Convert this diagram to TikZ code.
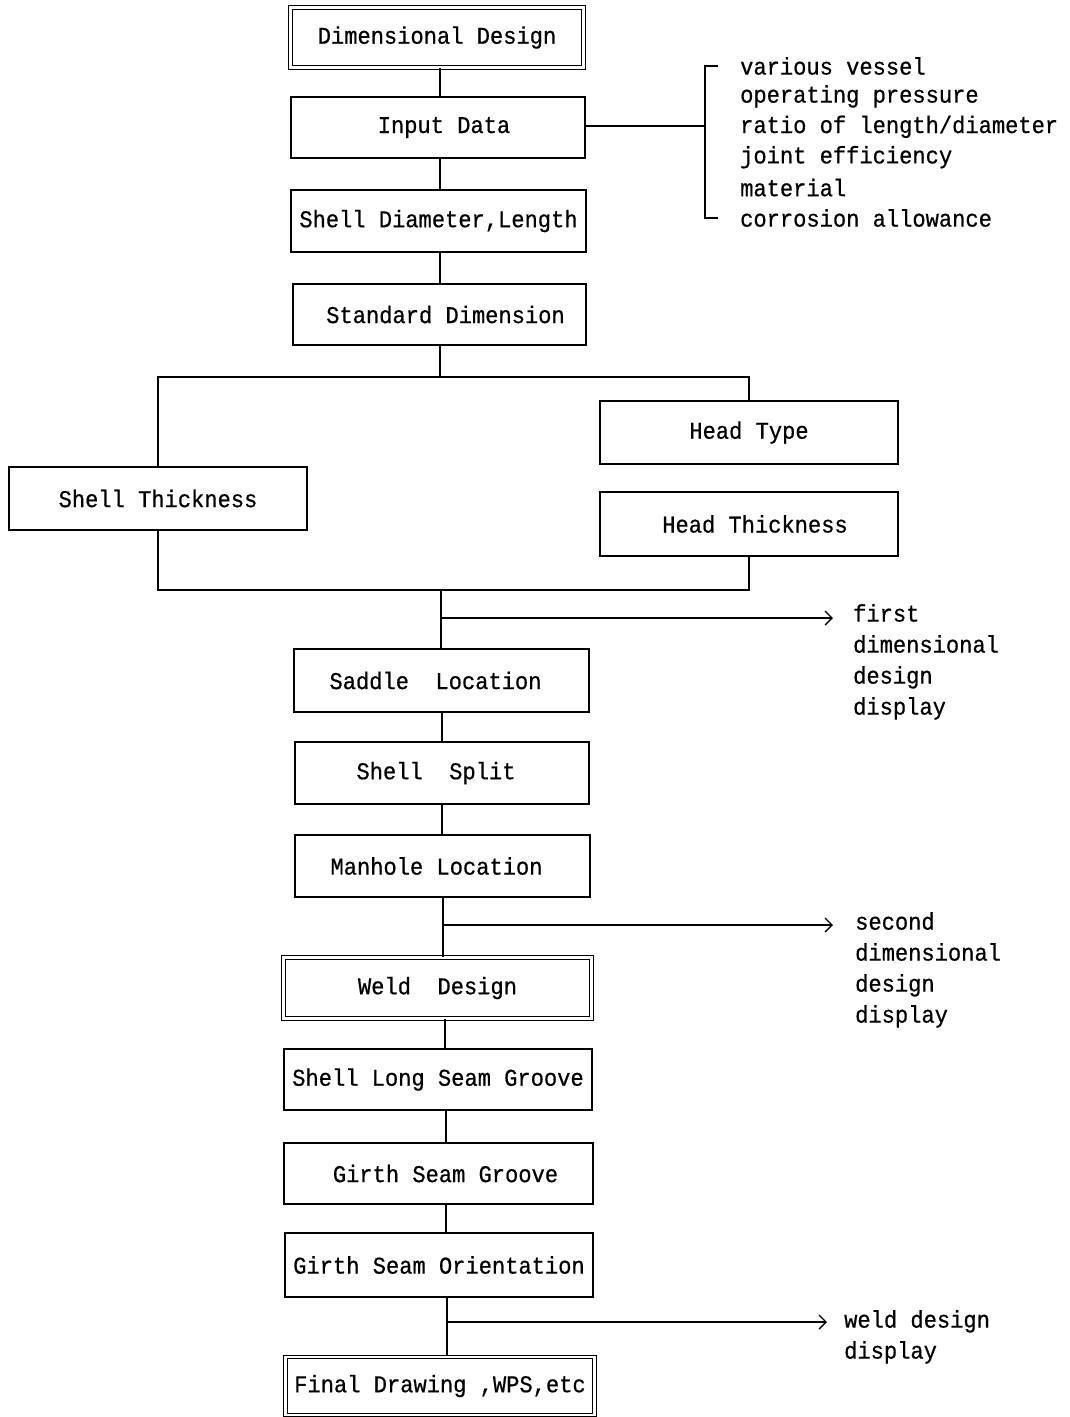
\documentclass[tikz,border=0pt]{standalone}
\usepackage{fontspec}
\newfontfamily\monof[FakeStretch=0.92,FakeBold=0.6]{Liberation Mono}
\usetikzlibrary{arrows.meta}
\begin{document}
\begin{tikzpicture}[x=1pt,y=-1pt,
  every node/.style={font=\monof\fontsize{24}{31}\selectfont},
  box/.style={draw,line width=1.4pt,inner sep=0pt},
  dbox/.style={draw,line width=1.1pt,double,double distance=2.5pt,inner sep=0pt},
  conn/.style={line width=1.4pt},
  arr/.style={line width=1.4pt,-{Straight Barb[length=7pt,width=14pt,line width=1.4pt]}},
  note/.style={anchor=north west,inner sep=0pt,align=left}]
\useasboundingbox (0,0) rectangle (1070,1417);
\fill[white] (0,0) rectangle (1070,1417);

\node[dbox,minimum width=293pt,minimum height=60pt] (dd) at (437,37.5) {Dimensional Design};
\node[box,minimum width=294pt,minimum height=61pt] (in) at (438,127.5) {\hspace*{12pt}Input Data};
\node[box,minimum width=295pt,minimum height=62pt] (sdl) at (438.5,221) {Shell Diameter,Length};
\node[box,minimum width=293pt,minimum height=61pt] (sd) at (439.5,314.5) {\hspace*{12pt}Standard Dimension};
\node[box,minimum width=298pt,minimum height=63pt] (ht) at (749,432.5) {Head Type};
\node[box,minimum width=298pt,minimum height=63pt] (st) at (158,498.5) {Shell Thickness};
\node[box,minimum width=298pt,minimum height=64pt] (hth) at (749,524) {\hspace*{12pt}Head Thickness};
\node[box,minimum width=295pt,minimum height=63pt] (sl) at (441.5,680.5) {Saddle~~Location\hspace*{12pt}};
\node[box,minimum width=294pt,minimum height=62pt] (ss) at (442,773) {Shell~~Split\hspace*{12pt}};
\node[box,minimum width=295pt,minimum height=62pt] (ml) at (442.5,866) {Manhole Location\hspace*{12pt}};
\node[dbox,minimum width=308pt,minimum height=61pt] (wd) at (437.5,988) {Weld~~Design};
\node[box,minimum width=308pt,minimum height=61pt] (slsg) at (438,1079.5) {Shell Long Seam Groove};
\node[box,minimum width=309pt,minimum height=61pt] (gsg) at (438.5,1173.5) {\hspace*{14pt}Girth Seam Groove};
\node[box,minimum width=308pt,minimum height=64pt] (gso) at (439,1265) {Girth Seam Orientation};
\node[dbox,minimum width=309pt,minimum height=58pt] (fd) at (440,1386) {Final Drawing ,WPS,etc};

% top chain
\draw[conn] (dd.south -| 440,0) -- (440,0 |- in.north);
\draw[conn] (in.south -| 440,0) -- (440,0 |- sdl.north);
\draw[conn] (sdl.south -| 440,0) -- (440,0 |- sd.north);

% input data bracket
\coordinate (bk) at (705,126);
\coordinate (bkt) at (705,66);
\coordinate (bkb) at (705,218);
\draw[conn] (in.east |- bk) -- (bk);
\draw[conn] ([xshift=13pt]bkt) -- (bkt) -- (bkb) -- ([xshift=13pt]bkb);
\foreach \t [count=\i from 0] in {various vessel,operating pressure,ratio of length/diameter,joint efficiency,material,corrosion allowance}
  \node[anchor=west,inner sep=0pt] (it\i) at (740,66+30.4*\i) {\t};

% branch
\coordinate (j1) at (440,377);
\draw[conn] (sd.south -| j1) -- (j1);
\draw[conn] (st.north) |- (j1) -| (ht.north);

% merge
\coordinate (j2) at (441,590);
\draw[conn] (st.south) |- (j2) -| (hth.south);
\draw[conn] (j2) -- (j2 |- sl.north);
\coordinate (a1) at (441,618);
\coordinate (a1e) at (833,618);
\draw[arr] (a1) -- (a1e);
\node[note] (n1) at (853,604) {first\\dimensional\\design\\display};

% middle chain
\draw[conn] (sl.south -| 442,0) -- (442,0 |- ss.north);
\draw[conn] (ss.south -| 442,0) -- (442,0 |- ml.north);
\coordinate (j3) at (443,925);
\draw[conn] (ml.south -| j3) -- (j3 |- wd.north);
\coordinate (a2e) at (833,925);
\draw[arr] (j3) -- (a2e);
\node[note] (n2) at (855,912) {second\\dimensional\\design\\display};

% weld chain
\draw[conn] (wd.south -| 445,0) -- (445,0 |- slsg.north);
\draw[conn] (slsg.south -| 446,0) -- (446,0 |- gsg.north);
\draw[conn] (gsg.south -| 446,0) -- (446,0 |- gso.north);
\coordinate (j4) at (447,1322);
\draw[conn] (gso.south -| j4) -- (j4 |- fd.north);
\coordinate (a3e) at (827,1322);
\draw[arr] (j4) -- (a3e);
\node[note] (n3) at (844,1310) {weld design\\display};
\end{tikzpicture}
\end{document}
